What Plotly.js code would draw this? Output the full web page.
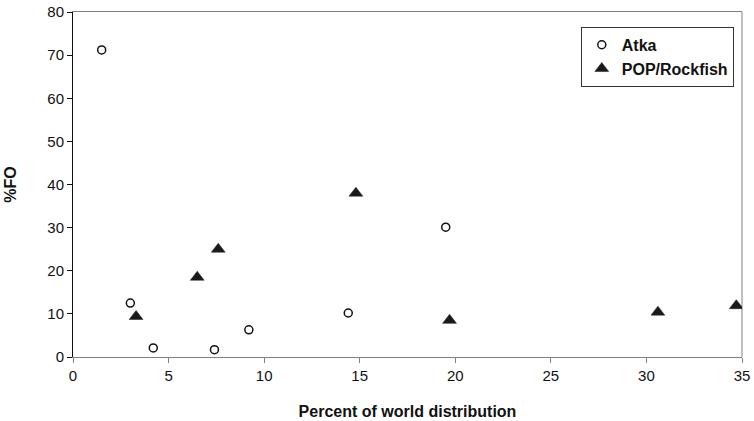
<!DOCTYPE html>
<html>
<head>
<meta charset="utf-8">
<script src="https://cdn.plot.ly/plotly-3.0.1.min.js"></script>
<style>html,body{margin:0;padding:0;background:#fff;}#chart{width:754px;height:421px;}</style>
</head>
<body>
<div id="chart"></div>
<script>
const atkaX = [1.5, 3.0, 4.2, 7.4, 9.2, 14.4, 19.5];
const atkaY = [71.2, 12.5, 2.1, 1.7, 6.3, 10.2, 30.1];
const popX = [3.3, 6.5, 7.6, 14.8, 19.7, 30.6, 34.7];
const popY = [9.4, 18.5, 25.0, 38.0, 8.5, 10.4, 11.9];
const xTicks = [0, 5, 10, 15, 20, 25, 30, 35];
const yTicks = [0, 10, 20, 30, 40, 50, 60, 70, 80];

const FONT = '"Liberation Sans", Arial, sans-serif';

const traces = [
  {
    x: atkaX, y: atkaY, name: 'Atka', type: 'scatter', mode: 'markers',
    marker: {symbol: 'circle', size: 8, color: '#ffffff', line: {color: '#111111', width: 1.5}}
  },
  {
    x: popX, y: popY, name: 'POP/Rockfish', type: 'scatter', mode: 'markers',
    marker: {symbol: 'triangle-up', size: 12, color: '#1a1a1a', line: {color: '#1a1a1a', width: 0.5}}
  }
];

const layout = {
  width: 754, height: 421,
  margin: {l: 73, r: 12, t: 12, b: 64},
  paper_bgcolor: '#ffffff', plot_bgcolor: '#ffffff',
  font: {family: FONT, size: 15, color: '#111111'},
  showlegend: true,
  legend: {
    x: 0.759, y: 0.957, xanchor: 'left', yanchor: 'top',
    bgcolor: '#ffffff', bordercolor: '#333333', borderwidth: 1,
    font: {family: FONT, size: 16, color: '#111111', weight: 'bold'},
    itemwidth: 30, tracegroupgap: 4
  },
  xaxis: {
    range: [0, 35], tickvals: xTicks, ticktext: xTicks.map(String),
    showgrid: false, zeroline: false,
    showline: true, linecolor: '#808080', linewidth: 1, mirror: true,
    ticks: 'outside', ticklen: 5, tickcolor: '#808080',
    tickfont: {family: FONT, size: 15, color: '#111111'},
    title: {text: 'Percent of world distribution', standoff: 22,
            font: {family: FONT, size: 16, color: '#111111', weight: 'bold'}}
  },
  yaxis: {
    range: [0, 80], tickvals: yTicks, ticktext: yTicks.map(String),
    showgrid: false, zeroline: false,
    showline: true, linecolor: '#111111', linewidth: 1, mirror: false,
    ticks: 'outside', ticklen: 5, tickcolor: '#111111',
    tickfont: {family: FONT, size: 15, color: '#111111'},
    title: {text: '%FO', standoff: 26,
            font: {family: FONT, size: 16, color: '#111111', weight: 'bold'}}
  },
  shapes: [
    {type: 'line', xref: 'paper', yref: 'paper', x0: 1, x1: 1, y0: 0, y1: 1,
     line: {color: '#808080', width: 1}, layer: 'below'}
  ]
};

Plotly.newPlot('chart', traces, layout, {displayModeBar: false, staticPlot: true});
</script>
</body>
</html>
